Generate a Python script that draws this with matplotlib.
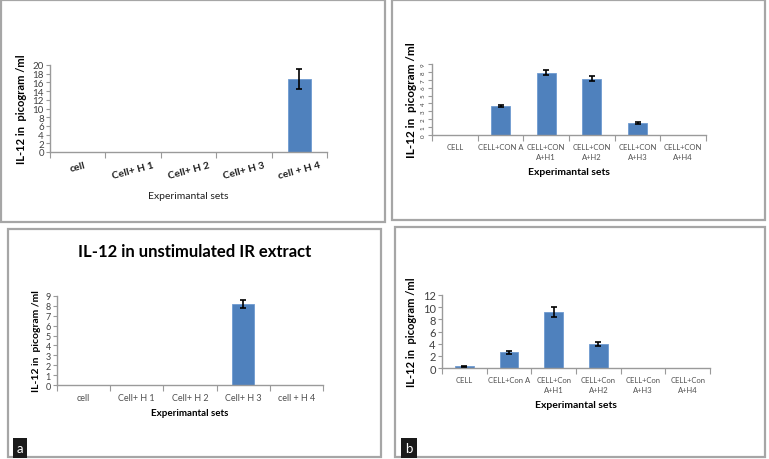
import numpy as np
import matplotlib.pyplot as plt
from matplotlib.patches import Rectangle

plt.rcParams['font.family'] = ['Lato', 'DejaVu Sans']

# panel data
cats_tl = ['cell', 'Cell+ H 1', 'Cell+ H 2', 'Cell+ H 3', 'cell + H 4']
vals_tl = [0, 0, 0, 0, 16.7]
errs_tl = [0, 0, 0, 0, 2.3]

cats_tr = ['CELL', 'CELL+CON A', 'CELL+CON\nA+H1', 'CELL+CON\nA+H2', 'CELL+CON\nA+H3', 'CELL+CON\nA+H4']
vals_tr = [0, 3.65, 7.9, 7.15, 1.5, 0]
errs_tr = [0, 0.15, 0.3, 0.3, 0.1, 0]

cats_bl = ['cell', 'Cell+ H 1', 'Cell+ H 2', 'Cell+ H 3', 'cell + H 4']
vals_bl = [0, 0, 0, 8.2, 0]
errs_bl = [0, 0, 0, 0.42, 0]

cats_br = ['CELL', 'CELL+Con A', 'CELL+Con\nA+H1', 'CELL+Con\nA+H2', 'CELL+Con\nA+H3', 'CELL+Con\nA+H4']
vals_br = [0.25, 2.55, 9.2, 3.95, 0, 0]
errs_br = [0.05, 0.25, 0.85, 0.4, 0, 0]

W, H = 769, 460
fig = plt.figure(figsize=(W / 100, H / 100), dpi=100)
fig.patch.set_facecolor('white')

BAR = '#4f81bd'
AX = '#9a9a9a'
TXT = '#404040'


def box(l, t, r, b):
    fig.patches.append(Rectangle((l / W, 1 - b / H), (r - l) / W, (b - t) / H,
                                 transform=fig.transFigure, fill=False,
                                 edgecolor='#a6a6a6', linewidth=1.6))


def add_ax(l, t, r, b):
    return fig.add_axes([l / W, 1 - b / H, (r - l) / W, (b - t) / H])


def bar_panel(ax, cats, vals, errs, ymax, ystep, ytick_size, xtick_kw):
    n = len(cats)
    x = np.arange(n)
    ax.bar(x, vals, width=0.42, color=BAR, edgecolor='#6f9bd1', linewidth=0.6, zorder=2)
    sel = [i for i in range(n) if errs[i] > 0]
    ax.errorbar([x[i] for i in sel], [vals[i] for i in sel], yerr=[errs[i] for i in sel],
                fmt='none', ecolor='black', elinewidth=1.2, capsize=2.5, capthick=1.2, zorder=3)
    ax.set_xlim(-0.5, n - 0.5)
    ax.set_ylim(0, ymax)
    ax.set_yticks(np.arange(0, ymax + 0.01, ystep))
    ax.set_xticks(np.arange(n + 1) - 0.5)
    ax.set_xticklabels([])
    ax.set_xticks(x, minor=True)
    ax.set_xticklabels(cats, minor=True, **xtick_kw)
    ax.tick_params(axis='x', which='minor', length=0, pad=6)
    ax.tick_params(axis='x', which='major', length=4, color=AX, direction='out')
    ax.tick_params(axis='y', length=3, color=AX, labelsize=ytick_size, labelcolor=TXT, pad=1.5)
    for s in ['top', 'right']:
        ax.spines[s].set_visible(False)
    for s in ['left', 'bottom']:
        ax.spines[s].set_color(AX)
        ax.spines[s].set_linewidth(1.0)


# top-left panel
box(1, 1, 385, 223)
ax1 = add_ax(50, 66, 327, 153)
bar_panel(ax1, cats_tl, vals_tl, errs_tl, 20, 2, 7,
          dict(fontsize=7.5, fontweight='bold', rotation=15, color='#202020', ha='center'))
ax1.set_xlabel('Experimantal sets', fontsize=7.5, color='#202020', labelpad=8)
ax1.set_ylabel('IL-12 in  picogram /ml', fontsize=8, fontweight='bold', labelpad=4)

# top-right panel
box(392, 1, 765, 221)
ax2 = add_ax(432, 65, 706, 136)
bar_panel(ax2, cats_tr, vals_tr, errs_tr, 9, 1, 4.5,
          dict(fontsize=5.5, color='#505050', ha='center', linespacing=1.5))
for lab in ax2.get_yticklabels():
    lab.set_rotation(90)
    lab.set_va('center')
ax2.set_xlabel('Experimantal sets', fontsize=7.5, fontweight='bold', labelpad=5)
ax2.set_ylabel('IL-12 in  picogram /ml', fontsize=8.5, fontweight='bold', labelpad=3)

# bottom-left panel
box(8, 230, 381, 458)
ax3 = add_ax(57, 297, 323, 386)
bar_panel(ax3, cats_bl, vals_bl, errs_bl, 9, 1, 6.5,
          dict(fontsize=6.5, color='#505050', ha='center'))
ax3.set_xlabel('Experimantal sets', fontsize=7, fontweight='bold', labelpad=4)
ax3.set_ylabel('IL-12 in  picogram /ml', fontsize=7.5, fontweight='bold', labelpad=3)
fig.text(195 / W, 1 - 252 / H, 'IL-12 in unstimulated IR extract', fontsize=12,
         fontweight='bold', ha='center', va='center')
fig.text(20 / W, 1 - 449 / H, 'a', fontsize=9.5, color='white', ha='center', va='center',
         bbox=dict(boxstyle='square,pad=0.3', facecolor='#1a1a1a', edgecolor='none'))

# bottom-right panel
box(395, 228, 765, 458)
ax4 = add_ax(442, 296, 710, 369)
bar_panel(ax4, cats_br, vals_br, errs_br, 12, 2, 8,
          dict(fontsize=5.5, color='#505050', ha='center', linespacing=1.5))
ax4.set_xlabel('Experimantal sets', fontsize=7.5, fontweight='bold', labelpad=5)
ax4.set_ylabel('IL-12 in  picogram /ml', fontsize=8, fontweight='bold', labelpad=4)
fig.text(409 / W, 1 - 449 / H, 'b', fontsize=9.5, color='white', ha='center', va='center',
         bbox=dict(boxstyle='square,pad=0.3', facecolor='#1a1a1a', edgecolor='none'))

plt.savefig('out.png', dpi=100)
